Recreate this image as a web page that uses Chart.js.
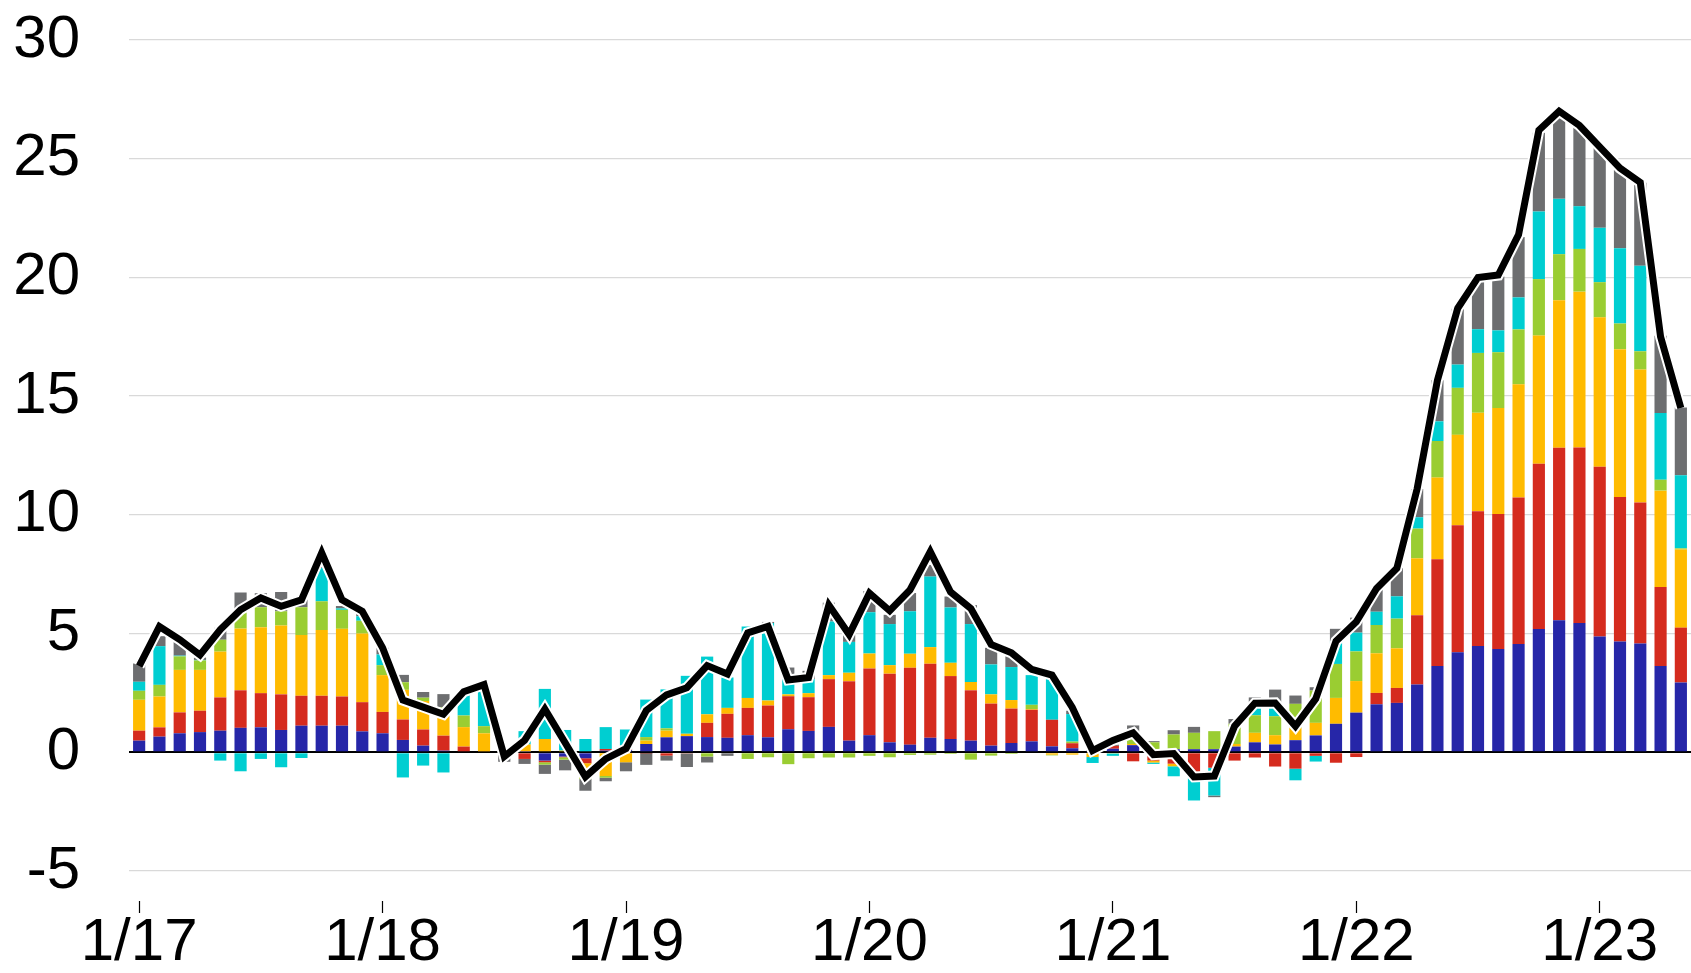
<!DOCTYPE html>
<html>
<head>
<meta charset="utf-8">
<style>
  html, body { margin: 0; padding: 0; background: #fff; }
  #wrap { width: 1691px; height: 973px; }
</style>
<script src="https://cdn.jsdelivr.net/npm/chart.js@4.4.1/dist/chart.umd.min.js"></script>
</head>
<body>
<div id="wrap"><canvas id="chart" width="1691" height="973"></canvas></div>
<script>
// monthly categories, Jan 2017 .. May 2023
const months = [];
for (let y = 17; y <= 23; y++) {
  for (let m = 1; m <= 12; m++) {
    if (y === 23 && m > 5) break;
    months.push(m + '/' + y);
  }
}
const tickLabels = ['1/17', '1/18', '1/19', '1/20', '1/21', '1/22', '1/23'];
const yTicks = [-5, 0, 5, 10, 15, 20, 25, 30];

// stacked contributions (bottom to top)
const blue = [
  0.49, 0.66, 0.80, 0.85, 0.91, 1.03, 1.05, 0.94, 1.12, 1.12, 1.12, 0.88,
  0.80, 0.52, 0.28, 0.07, 0, 0, 0, 0.02, -0.35, -0.18, -0.25, 0.07,
  0.10, 0.35, 0.63, 0.68, 0.64, 0.61, 0.72, 0.63, 0.97, 0.90, 1.07, 0.49,
  0.72, 0.42, 0.32, 0.61, 0.56, 0.49, 0.28, 0.39, 0.46, 0.25, 0.17, 0.05,
  0.15, 0.30, 0.12, 0.13, 0.13, 0.13, 0.24, 0.42, 0.33, 0.51, 0.71, 1.20,
  1.67, 2.02, 2.08, 2.85, 3.63, 4.21, 4.48, 4.35, 4.56, 5.19, 5.56, 5.44,
  4.88, 4.67, 4.58, 3.63, 2.94
];
const red = [
  0.42, 0.39, 0.88, 0.90, 1.40, 1.58, 1.44, 1.50, 1.26, 1.26, 1.23, 1.23,
  0.90, 0.86, 0.68, 0.63, 0.24, 0.04, 0, -0.28, -0.07, -0.03, -0.21, 0.07,
  0.04, -0.03, -0.14, -0.05, 0.60, 1.01, 1.15, 1.34, 1.39, 1.42, 2.01, 2.50,
  2.81, 2.89, 3.24, 3.12, 2.65, 2.12, 1.77, 1.45, 1.33, 1.12, 0.21, 0,
  0.12, -0.38, -0.35, -0.48, -0.83, -0.65, -0.35, -0.22, -0.60, -0.69, -0.15, -0.44,
  -0.20, 0.48, 0.63, 2.92, 4.50, 5.35, 5.67, 5.69, 6.17, 6.96, 7.27, 7.40,
  7.15, 6.08, 5.94, 3.33, 2.31
];
const yellow = [
  1.30, 1.30, 1.79, 1.72, 1.93, 2.60, 2.78, 2.90, 2.56, 2.77, 2.85, 2.89,
  1.55, 1.25, 1.20, 1.10, 0.82, 0.76, 0, 0.31, 0.56, 0.07, -0.60, -1.00,
  -0.42, 0.14, 0.28, 0.10, 0.36, 0.25, 0.42, 0.21, 0.08, 0.17, 0.17, 0.36,
  0.63, 0.36, 0.59, 0.70, 0.56, 0.35, 0.39, 0.36, 0.03, -0.10, -0.10, -0.20,
  -0.05, 0.05, -0.08, -0.11, 0, 0, 0.11, 0.40, 0.39, 0.53, 0.53, 1.09,
  1.33, 1.67, 1.67, 2.40, 3.44, 3.81, 4.15, 4.46, 4.77, 5.40, 6.21, 6.56,
  6.29, 6.23, 5.60, 4.06, 3.29
];
const green = [
  0.38, 0.49, 0.57, 0.40, 0.50, 0.68, 0.84, 0.60, 1.17, 1.21, 0.80, 0.54,
  0.42, 0.32, 0.14, 0.10, 0.49, 0.30, 0.18, 0, -0.10, -0.10, -0.07, -0.07,
  0, 0.15, 0.10, 0, -0.18, 0, -0.28, -0.21, -0.50, -0.25, -0.22, -0.22,
  -0.15, -0.21, -0.11, -0.10, -0.07, -0.31, -0.14, -0.07, 0.18, -0.03, 0.07, 0,
  0, 0.50, 0.30, 0.62, 0.69, 0.76, 0.85, 0.74, 0.80, 1.00, 1.36, 1.43,
  1.25, 1.19, 1.25, 1.25, 1.54, 1.98, 2.52, 2.35, 2.31, 2.38, 1.94, 1.80,
  1.48, 1.08, 0.77, 0.46, 0.05
];
const cyan = [
  0.38, 1.63, 0.03, 0.02, -0.35, -0.80, -0.28, -0.63, -0.24, 1.40, 0.06, 0.19,
  0.45, -1.06, -0.56, -0.85, 0.93, 1.58, 0, 0.56, 2.11, 0.87, 0.56, 0.92,
  0.82, 1.58, 1.64, 2.44, 2.43, 1.28, 3.01, 3.26, 0.78, 0.59, 2.26, 1.30,
  1.74, 1.73, 1.79, 2.97, 2.33, 2.44, 1.26, 1.39, 1.25, 1.84, 1.16, -0.25,
  -0.10, 0, -0.06, -0.42, -1.20, -1.17, 0, 0.45, 0.45, -0.49, -0.24, 0.95,
  0.79, 0.56, 0.94, 0.48, 0.83, 0.98, 1.00, 0.92, 1.35, 2.85, 2.33, 1.80,
  2.29, 3.17, 3.60, 2.81, 3.08
];
const gray = [
  0.77, 0.42, 0.57, 0.10, 0.50, 0.84, 0.59, 0.81, 0.32, 0.30, 0.10, 0.10,
  0.28, 0.31, 0.24, 0.55, 0, 0, -0.40, -0.21, -0.39, -0.45, -0.49, -0.15,
  -0.38, -0.50, -0.21, -0.57, -0.25, -0.15, 0, 0.05, 0.35, 0.35, 0.79, 0.31,
  0.89, 0.39, 0.77, 0.49, 0.46, 0.80, 0.70, 0.46, 0, 0, 0.14, 0.05,
  0.05, 0.28, 0.05, 0.18, 0.25, -0.07, 0.20, 0.30, 0.67, 0.35, 0.14, 0.53,
  0.63, 0.96, 1.19, 1.19, 1.73, 2.35, 2.13, 2.27, 2.54, 3.31, 3.40, 3.30,
  3.38, 3.29, 3.50, 3.25, 2.85
];
// headline line
const total = [
  3.63, 5.30, 4.75, 4.10, 5.17, 6.00, 6.50, 6.15, 6.42, 8.40, 6.42, 5.94,
  4.40, 2.20, 1.90, 1.60, 2.55, 2.85, -0.18, 0.50, 1.82, 0.40, -1.03, -0.28,
  0.15, 1.76, 2.42, 2.72, 3.65, 3.30, 5.03, 5.30, 3.05, 3.15, 6.20, 4.96,
  6.70, 5.96, 6.84, 8.45, 6.75, 6.05, 4.54, 4.19, 3.49, 3.25, 1.89, 0.07,
  0.50, 0.82, -0.10, -0.05, -1.04, -1.00, 1.10, 2.07, 2.08, 1.10, 2.25, 4.68,
  5.50, 6.90, 7.75, 11.10, 15.67, 18.70, 20.00, 20.10, 21.80, 26.20, 27.00, 26.40,
  25.50, 24.60, 24.00, 17.50, 14.50
];

const fontFamily = '"Liberation Sans", Arial, Helvetica, sans-serif';

function barSet(data, color) {
  return {
    type: 'bar',
    data: data,
    backgroundColor: color,
    borderWidth: 0,
    barPercentage: 0.6,
    categoryPercentage: 1,
    order: 2
  };
}

new Chart(document.getElementById('chart'), {
  type: 'bar',
  data: {
    labels: months,
    datasets: [
      barSet(blue, '#2626a8'),
      barSet(red, '#d52b1e'),
      barSet(yellow, '#ffbb00'),
      barSet(green, '#9acd32'),
      barSet(cyan, '#00ced1'),
      barSet(gray, '#6d6e70'),
      {
        type: 'line', data: total, stack: 'halo', order: 1,
        borderColor: '#fff', borderWidth: 11, pointRadius: 0, tension: 0
      },
      {
        type: 'line', data: total, stack: 'total', order: 0,
        borderColor: '#000', borderWidth: 7, pointRadius: 0, tension: 0
      }
    ]
  },
  options: {
    responsive: false,
    animation: false,
    layout: { padding: { left: 13, top: 40, right: 0, bottom: 0 } },
    plugins: { legend: { display: false }, tooltip: { enabled: false } },
    scales: {
      x: {
        stacked: true,
        offset: true,
        border: { display: false },
        grid: {
          offset: false,
          drawOnChartArea: false,
          drawTicks: true,
          tickLength: 42,
          tickWidth: 1.2,
          tickColor: ctx => tickLabels.includes(months[ctx.index]) ? '#000' : 'rgba(0,0,0,0)',
          tickBorderDash: [0, 30, 12, 200]
        },
        ticks: {
          autoSkip: false,
          maxRotation: 0,
          minRotation: 0,
          padding: 0,
          color: '#000',
          font: { family: fontFamily, size: 60, lineHeight: 1 },
          callback: (v, i) => tickLabels.includes(months[i]) ? months[i] : ''
        }
      },
      y: {
        stacked: true,
        min: yTicks[0],
        max: yTicks[yTicks.length - 1],
        border: { display: false },
        grid: {
          drawTicks: false,
          color: ctx => ctx.tick.value === 0 ? '#000' : '#d9d9d9',
          lineWidth: ctx => ctx.tick.value === 0 ? 2 : 1.3
        },
        ticks: {
          stepSize: 5,
          padding: 49,
          color: '#000',
          font: { family: fontFamily, size: 60 }
        },
        afterFit: scale => {
          // keep the label gap without letting it pad the axis top / width
          scale.width = 116;
          scale.paddingTop = 0;
          scale.paddingBottom = 0;
        }
      }
    }
  }
});
</script>
</body>
</html>
